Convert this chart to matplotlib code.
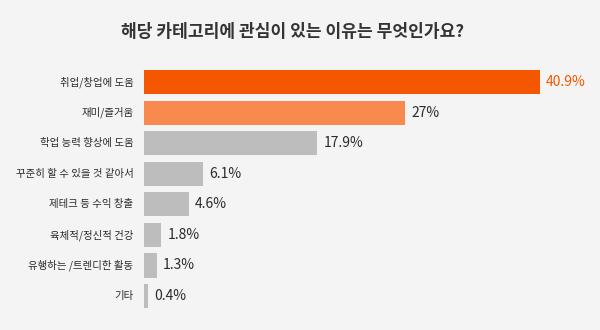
import numpy as np
import matplotlib
matplotlib.use("Agg")
import matplotlib.pyplot as plt

plt.rcParams['font.family'] = ['Noto Sans CJK KR', 'DejaVu Sans']

#---------data------
title = "해당 카테고리에 관심이 있는 이유는 무엇인가요?"
categories = ["취업/창업에 도움", "재미/즐거움", "학업 능력 향상에 도움",
              "꾸준히 할 수 있을 것 같아서", "제테크 등 수익 창출",
              "육체적/정신적 건강", "유행하는 /트렌디한 활동", "기타"]
values = [40.9, 27, 17.9, 6.1, 4.6, 1.8, 1.3, 0.4]
value_labels = ["40.9%", "27%", "17.9%", "6.1%", "4.6%", "1.8%", "1.3%", "0.4%"]

bg = "#f4f4f4"
colors = ["#f55600", "#f88a4f"] + ["#bdbdbd"]*6
text_colors = ["#f55600"] + ["#2b2b2b"]*7

fig = plt.figure(figsize=(6, 3.3), dpi=100, facecolor=bg)
ax = fig.add_axes([0.24, 0.0567, 0.726, 0.741])
ax.set_facecolor(bg)

y = np.arange(len(categories))
ax.barh(y, values, height=0.79, color=colors)
ax.set_xlim(0, 45)
ax.set_ylim(len(categories) - 0.5, -0.5)

for i, v in enumerate(values):
    ax.annotate(value_labels[i], (v, y[i]), xytext=(4.5, 0), textcoords='offset points',
                ha='left', va='center', fontsize=10, color=text_colors[i])
    ax.annotate(categories[i], (0, y[i]), xytext=(-7.5, 0), textcoords='offset points',
                ha='right', va='center', fontsize=7.5, color="#2b2b2b")

ax.axis('off')
fig.text(293/600, 1 - 32/330, title, ha='center', va='center', fontsize=12.3,
         fontweight='bold', color="#333333")

plt.savefig("out.png", dpi=100, facecolor=bg)
